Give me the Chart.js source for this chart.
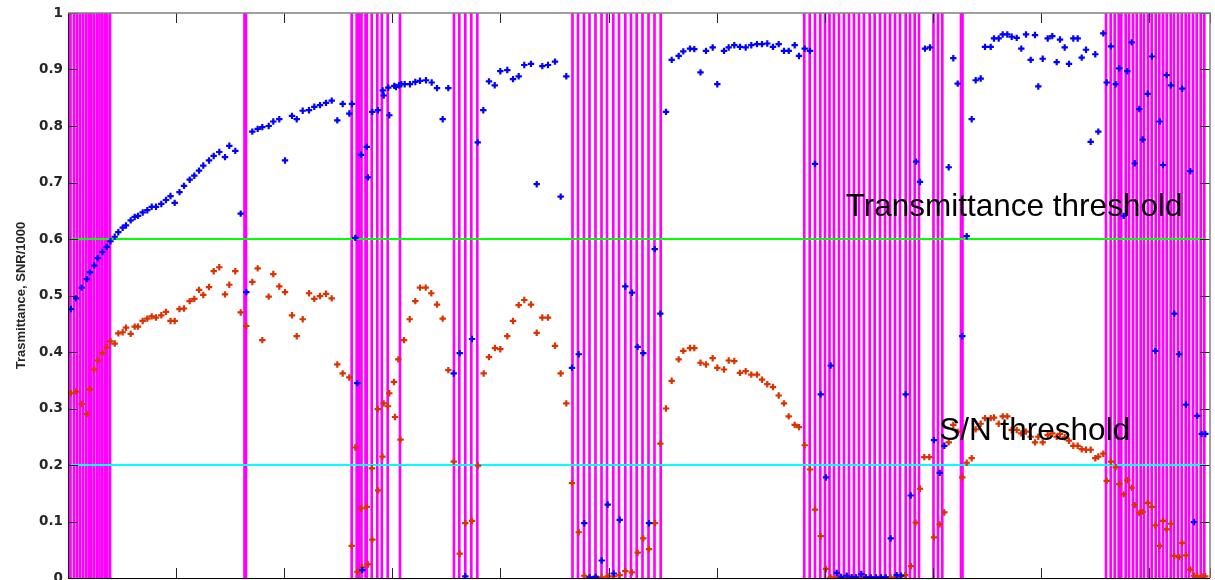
<!DOCTYPE html>
<html>
<head>
<meta charset="utf-8">
<script src="https://cdn.jsdelivr.net/npm/chart.js@4.4.1/dist/chart.umd.min.js"></script>
<style>
  html, body { margin: 0; padding: 0; background: #fff; }
  #wrap { width: 1215px; height: 580px; position: relative; }
</style>
</head>
<body>
<div id="wrap"><canvas id="chart"></canvas></div>
<script>
const X_MAX = 1142;
const X_TICK_STEP = 108.1;

const Y_TICK_LABELS = ['0', '0.1', '0.2', '0.3', '0.4', '0.5', '0.6', '0.7', '0.8', '0.9', '1'];

// [x, transmittance]
const transmittance = [
  [3, 0.476], [8, 0.495], [13.7, 0.514], [18.7, 0.529], [22, 0.541], [26.3, 0.553], [29.7, 0.566], [34.5, 0.577],
  [38.7, 0.586], [42.5, 0.596], [46.7, 0.604], [50.3, 0.612], [54.7, 0.620], [58, 0.624], [62.7, 0.633], [66.7, 0.639],
  [70, 0.641], [74.7, 0.647], [79.3, 0.651], [83.7, 0.657], [88, 0.657], [93.3, 0.662], [98, 0.669], [102.5, 0.676],
  [106.7, 0.664], [111.5, 0.683], [116, 0.694], [121.7, 0.705], [126.3, 0.712], [131, 0.721], [135.3, 0.730], [141, 0.739],
  [145.7, 0.747], [151.3, 0.754], [157, 0.745], [161.3, 0.765], [167.3, 0.756], [172.7, 0.645], [178.3, 0.506], [184.3, 0.790],
  [189.7, 0.795], [194.3, 0.798], [200.7, 0.800], [205.3, 0.808], [211.3, 0.812], [217, 0.739], [224, 0.818], [228.7, 0.812],
  [234.7, 0.827], [241, 0.828], [246.3, 0.834], [252, 0.837], [258, 0.841], [263.7, 0.845], [269.3, 0.810], [274.7, 0.839],
  [281.3, 0.822], [284, 0.839], [287.3, 0.602], [289.3, 0.345], [293, 0.749], [294.3, 0.014], [298.7, 0.763], [300, 0.709],
  [304.3, 0.825], [310, 0.828], [314.7, 0.863], [315.7, 0.854], [320.3, 0.868], [321.3, 0.819], [326.3, 0.871], [328, 0.869],
  [331, 0.872], [333.3, 0.874], [336.7, 0.874], [342, 0.874], [347.3, 0.878], [352, 0.880], [358, 0.881], [363.7, 0.877],
  [369, 0.867], [374.7, 0.812], [380.3, 0.867], [385.7, 0.362], [391.7, 0.398], [397.3, 0.003], [404, 0.423], [409.7, 0.771],
  [415.3, 0.828], [421, 0.879], [426.7, 0.872], [432.3, 0.897], [439.3, 0.899], [445, 0.883], [450.7, 0.888], [456.3, 0.908],
  [463, 0.910], [468.7, 0.697], [474.3, 0.906], [480, 0.908], [487, 0.914], [492.7, 0.675], [498.3, 0.888], [504, 0.372],
  [510.7, 0.396], [516.3, 0.097], [521.7, 0.001], [527.7, 0.002], [533.7, 0.031], [539.7, 0.130], [545.7, 0.008], [551.7, 0.103],
  [557.3, 0.516], [564, 0.505], [569.7, 0.409], [575.3, 0.398], [581, 0.097], [586.7, 0.582], [592.3, 0.468], [598, 0.825],
  [603.7, 0.917], [610.7, 0.924], [615.3, 0.932], [622, 0.937], [626.3, 0.936], [632.5, 0.895], [638, 0.933], [644.7, 0.939],
  [649.3, 0.874], [656, 0.933], [660.7, 0.939], [666.3, 0.943], [672, 0.940], [677.7, 0.939], [683.3, 0.943], [689, 0.945],
  [694, 0.945], [699.3, 0.946], [705, 0.940], [710.7, 0.945], [716, 0.933], [720.7, 0.933], [726.7, 0.943], [731, 0.924],
  [736.7, 0.937], [742, 0.933], [747, 0.733], [752.7, 0.325], [758, 0.178], [762.7, 0.376], [768.7, 0.009], [773, 0.002],
  [778.7, 0.004], [783.7, 0.001], [788, 0.001], [793.3, 0.007], [798, 0.001], [802.7, 0.001], [808, 0.001], [813, 0.001],
  [817.7, 0.001], [822.7, 0.070], [828.7, 0.005], [833, 0.004], [837.7, 0.325], [842.7, 0.146], [848, 0.737], [852, 0.701],
  [857, 0.937], [862, 0.939], [866, 0.244], [871.7, 0.186], [876.3, 0.234], [880.7, 0.727], [885.3, 0.920], [889.7, 0.875],
  [894.3, 0.428], [898.7, 0.605], [903.7, 0.812], [907.7, 0.881], [912.7, 0.884], [917, 0.940], [922.7, 0.940], [926, 0.955],
  [930.7, 0.955], [934.7, 0.962], [939.3, 0.962], [943.7, 0.958], [948.7, 0.956], [953.3, 0.937], [958, 0.962], [962.7, 0.917],
  [967, 0.961], [970.3, 0.870], [974.7, 0.919], [979.7, 0.955], [984.3, 0.959], [988.7, 0.913], [992, 0.953], [996.7, 0.939],
  [1001, 0.910], [1005.3, 0.955], [1009.7, 0.955], [1013.7, 0.921], [1018, 0.935], [1022.7, 0.772], [1027.3, 0.927], [1030.3, 0.790],
  [1035.3, 0.964], [1038.7, 0.877], [1043, 0.941], [1047.7, 0.874], [1051.3, 0.902], [1055.7, 0.641], [1059.3, 0.897], [1063.7, 0.948],
  [1066.7, 0.734], [1071.3, 0.830], [1074.7, 0.776], [1079.7, 0.857], [1084, 0.923], [1087.3, 0.402], [1091.7, 0.808], [1095, 0.731],
  [1098.7, 0.890], [1103, 0.872], [1106.3, 0.468], [1111, 0.396], [1114.3, 0.866], [1118, 0.307], [1122.3, 0.720], [1126, 0.099],
  [1129.3, 0.287], [1133.7, 0.255], [1137.3, 0.255]
];

// [x, SNR/1000]
const snr = [
  [3, 0.327], [8, 0.330], [13.7, 0.308], [18.7, 0.290], [22, 0.334], [26.3, 0.369], [29.7, 0.385], [34.5, 0.398],
  [38.7, 0.408], [42.5, 0.419], [46.7, 0.415], [50.3, 0.433], [54.7, 0.435], [58, 0.443], [62.7, 0.432], [66.7, 0.445],
  [70, 0.445], [74.7, 0.455], [79.3, 0.459], [83.7, 0.463], [88, 0.461], [93.3, 0.465], [98, 0.471], [102.5, 0.455],
  [106.7, 0.455], [111.5, 0.476], [116, 0.477], [121.7, 0.490], [126.3, 0.494], [131, 0.510], [135.3, 0.501], [141, 0.515],
  [145.7, 0.543], [151.3, 0.550], [157, 0.502], [161.3, 0.519], [167.3, 0.543], [172.7, 0.470], [178.3, 0.446], [184.3, 0.524],
  [189.7, 0.548], [194.3, 0.421], [200.7, 0.498], [205.3, 0.538], [211.3, 0.516], [217, 0.506], [224, 0.465], [228.7, 0.428],
  [234.7, 0.458], [241, 0.504], [246.3, 0.494], [252, 0.499], [258, 0.503], [263.7, 0.495], [269.3, 0.378], [274.7, 0.362],
  [281.3, 0.355], [283.7, 0.057], [287.3, 0.231], [289.5, 0.011], [293, 0.123], [294.3, 0.019], [298.7, 0.126], [300, 0.024],
  [304, 0.194], [304.4, 0.068], [309.8, 0.299], [310.2, 0.155], [314.5, 0.215], [315.7, 0.309], [320, 0.304], [321.3, 0.327],
  [326, 0.347], [327, 0.285], [330.3, 0.387], [332.5, 0.245], [336, 0.421], [341.7, 0.458], [347.3, 0.490], [352, 0.514],
  [357.7, 0.514], [363.3, 0.504], [369, 0.484], [374.7, 0.459], [380.3, 0.368], [385.7, 0.206], [391.7, 0.043], [397.3, 0.097],
  [404, 0.101], [410, 0.199], [415.7, 0.362], [421, 0.391], [427, 0.407], [432.3, 0.405], [439.3, 0.428], [445, 0.455],
  [450.7, 0.483], [456.3, 0.492], [463, 0.484], [468.7, 0.434], [474.3, 0.461], [480, 0.461], [487, 0.411], [492.7, 0.362],
  [498.3, 0.309], [504, 0.168], [510.7, 0.081], [516.3, 0.004], [521.3, 0.001], [527.7, 0.002], [533.7, 0.001], [539.7, 0.003],
  [545.7, 0.003], [551.7, 0.005], [557.3, 0.012], [564, 0.010], [569.7, 0.045], [575.3, 0.070], [581, 0.051], [587, 0.097],
  [592.3, 0.238], [598, 0.300], [603.7, 0.349], [610.7, 0.387], [615.3, 0.402], [622, 0.407], [626.3, 0.407], [632.5, 0.381],
  [638, 0.378], [644.7, 0.389], [649.3, 0.372], [656, 0.369], [660.7, 0.385], [666.3, 0.384], [672, 0.363], [677.7, 0.366],
  [683.3, 0.360], [689, 0.360], [694, 0.351], [699.3, 0.343], [705, 0.338], [710.7, 0.323], [716, 0.309], [720.7, 0.286],
  [726.7, 0.271], [731, 0.267], [736.7, 0.235], [742, 0.192], [747, 0.121], [752.7, 0.074], [758, 0.016], [762.7, 0.001],
  [768.7, 0.001], [773, 0.001], [778.7, 0.001], [783.7, 0.001], [788, 0.001], [793.3, 0.001], [798, 0.001], [802.7, 0.001],
  [808, 0.001], [813, 0.002], [817.7, 0.001], [822.7, 0.001], [828.7, 0.002], [833, 0.003], [837.3, 0.005], [843, 0.021],
  [847.7, 0.098], [852, 0.158], [856.3, 0.214], [861.3, 0.214], [866, 0.072], [871.7, 0.095], [876.3, 0.116], [880.7, 0.240],
  [885.3, 0.271], [889.7, 0.259], [894.3, 0.178], [898.7, 0.204], [903.7, 0.212], [907.7, 0.263], [912.7, 0.273], [917, 0.283],
  [922.7, 0.283], [926, 0.284], [930.7, 0.273], [934.7, 0.286], [939.3, 0.286], [943.7, 0.262], [948.7, 0.262], [953.3, 0.256],
  [958, 0.259], [962.7, 0.250], [967, 0.240], [970.3, 0.250], [974.7, 0.240], [979.7, 0.253], [984.3, 0.256], [988.7, 0.250],
  [992, 0.255], [996.7, 0.249], [1001, 0.243], [1005.3, 0.234], [1009.7, 0.234], [1013.7, 0.228], [1018, 0.227], [1022.7, 0.227],
  [1027.3, 0.212], [1030.3, 0.215], [1035.3, 0.220], [1038.7, 0.172], [1043, 0.206], [1047.7, 0.196], [1051.3, 0.166], [1055.7, 0.148],
  [1059.3, 0.173], [1063.7, 0.160], [1066.7, 0.129], [1071.3, 0.115], [1074.7, 0.117], [1079.7, 0.133], [1084, 0.126], [1087.3, 0.093],
  [1091.7, 0.057], [1095, 0.101], [1098.7, 0.086], [1103, 0.096], [1106.3, 0.039], [1111, 0.037], [1114.3, 0.062], [1118, 0.040],
  [1122.3, 0.015], [1126, 0.004], [1129.3, 0.003], [1133.7, 0.003], [1137.3, 0.003]
];

// samples flagged as rejected (drawn as vertical magenta lines)
const rejected = [
  1, 2.5, 6, 9, 12, 15, 18, 20.7, 23.3, 26, 29, 31.5, 34, 36.7, 39.3, 42,
  176.5, 178,
  283.7, 288.7, 291.3, 293.5, 297.5, 298.8, 303.7, 309.3, 313.8, 319.7, 332,
  386, 391.3, 397.3, 403.3, 409.3,
  504.5, 510, 516, 521.5, 527.5, 533.5, 539, 545.3, 551, 557.3, 563, 568.7, 574.5, 580.5, 586.5, 592.7,
  736.3, 741.7, 747, 752.3, 757, 761.5, 766, 771, 776, 781, 786, 791, 796, 801.7, 806.7, 812, 817, 822, 827, 832,
  837.7, 842, 846.7, 851,
  865.5, 870, 874.3, 893, 894.5,
  1038, 1042.7, 1046.7, 1050.7, 1053.3, 1057.7, 1061, 1065, 1068.7, 1072.7, 1076, 1080, 1083.7, 1087.7, 1091.3, 1095,
  1098.7, 1102.7, 1106, 1110, 1113.7, 1117.7, 1121, 1125, 1128.7, 1132.7, 1136.3
];

const TRANS_THRESHOLD = 0.6;
const SNR_THRESHOLD = 0.2;
const THRESHOLD_SPAN = [3, 1137.3];

const labels = [
  { text: 'Transmittance threshold', x: 777.7, y: 0.641 },
  { text: 'S/N threshold', x: 871.3, y: 0.244 },
];

const toPoints = rows => rows.map(([x, y]) => ({ x, y }));

// inward ticks, box and the two threshold captions
const framePlugin = {
  id: 'frame',
  afterDatasetsDraw(chart) {
    const { ctx, chartArea: a, scales: { x, y } } = chart;
    const len = 10;
    ctx.save();
    ctx.lineWidth = 1;
    ctx.strokeStyle = '#262626';
    ctx.beginPath();
    x.ticks.forEach(t => {
      const px = Math.round(x.getPixelForValue(t.value)) + 0.5;
      ctx.moveTo(px, a.bottom); ctx.lineTo(px, a.bottom - len);
      ctx.moveTo(px, a.top); ctx.lineTo(px, a.top + len);
    });
    y.ticks.forEach(t => {
      const py = Math.round(y.getPixelForValue(t.value)) + 0.5;
      ctx.moveTo(a.left, py); ctx.lineTo(a.left + len, py);
      ctx.moveTo(a.right, py); ctx.lineTo(a.right - len, py);
    });
    ctx.stroke();

    ctx.beginPath();
    ctx.strokeStyle = '#000';
    ctx.moveTo(a.left + 0.5, a.top); ctx.lineTo(a.left + 0.5, a.bottom + 0.5);
    ctx.lineTo(a.right, a.bottom + 0.5);
    ctx.stroke();
    ctx.beginPath();
    ctx.strokeStyle = '#808080';
    ctx.lineWidth = 1.5;
    ctx.moveTo(a.left, a.top); ctx.lineTo(a.right, a.top); ctx.lineTo(a.right, a.bottom);
    ctx.stroke();

    ctx.fillStyle = '#000';
    ctx.font = '31.5px "Liberation Sans", Arial, sans-serif';
    ctx.textBaseline = 'alphabetic';
    ctx.textAlign = 'left';
    labels.forEach(l => ctx.fillText(l.text, x.getPixelForValue(l.x), y.getPixelForValue(l.y)));
    ctx.restore();
  }
};

const marker = {
  pointStyle: 'cross',
  pointRadius: 3.2,
  pointBorderWidth: 2.2,
  showLine: false,
};

new Chart(document.getElementById('chart'), {
  type: 'scatter',
  data: {
    datasets: [
      {
        label: 'Transmittance',
        data: toPoints(transmittance),
        borderColor: '#0000ff',
        backgroundColor: '#0000ff',
        ...marker,
        order: 0,
      },
      {
        label: 'SNR/1000',
        data: toPoints(snr),
        borderColor: '#dc3200',
        backgroundColor: '#dc3200',
        ...marker,
        order: 1,
      },
      {
        type: 'line',
        label: 'Transmittance threshold',
        data: THRESHOLD_SPAN.map(x => ({ x, y: TRANS_THRESHOLD })),
        borderColor: '#00ff00',
        borderWidth: 2,
        pointRadius: 0,
        order: 2,
      },
      {
        type: 'line',
        label: 'S/N threshold',
        data: THRESHOLD_SPAN.map(x => ({ x, y: SNR_THRESHOLD })),
        borderColor: '#00ffff',
        borderWidth: 2,
        pointRadius: 0,
        order: 3,
      },
      {
        type: 'bar',
        label: 'Rejected',
        data: rejected.map(x => ({ x, y: 1 })),
        backgroundColor: '#ff00ff',
        borderWidth: 0,
        barThickness: 2,
        order: 4,
      },
    ],
  },
  options: {
    responsive: true,
    maintainAspectRatio: false,
    animation: false,
    layout: { autoPadding: false, padding: { left: 0, right: 5, top: 13, bottom: 2 } },
    plugins: {
      legend: { display: false },
      tooltip: { enabled: false },
    },
    scales: {
      x: {
        type: 'linear',
        min: 0,
        max: X_MAX,
        offset: false,
        grid: { display: false, offset: false },
        border: { display: false },
        ticks: { display: false, stepSize: X_TICK_STEP },
        afterFit: scale => { scale.height = 0; },
      },
      y: {
        type: 'linear',
        min: 0,
        max: 1,
        grid: { display: false, drawTicks: false },
        border: { display: false },
        ticks: {
          stepSize: 0.1,
          padding: 5,
          color: '#262626',
          font: { family: '"DejaVu Sans", sans-serif', size: 13.5, weight: 'bold' },
          callback: value => Y_TICK_LABELS[Math.round(value * 10)],
        },
        title: {
          display: true,
          text: 'Trasmittance, SNR/1000',
          color: '#262626',
          font: { family: '"Liberation Sans", Arial, sans-serif', size: 13, weight: 'bold' },
          padding: { top: 14, bottom: 0 },
        },
        afterFit: scale => {
          scale.width = 68;
          scale.paddingTop = 0;
          scale.paddingBottom = 0;
        },
      },
    },
  },
  plugins: [framePlugin],
});
</script>
</body>
</html>
